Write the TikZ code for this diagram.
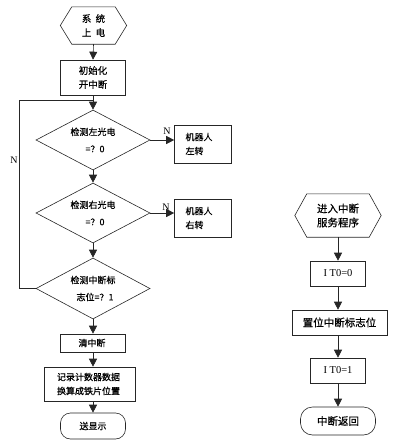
\documentclass[tikz,border=0pt]{standalone}
\usepackage{fontspec}
\setmainfont{Liberation Serif}
\newfontfamily\cjk[FakeBold=0.6]{Noto Sans CJK SC}
\usetikzlibrary{shapes.geometric,arrows.meta,calc}
\begin{document}
\begin{tikzpicture}[x=1pt,y=-1pt,
  line/.style={draw=black!85, line width=0.6pt},
  arr/.style={line, -{Triangle[width=8pt,length=8pt]}},
  txt/.style={inner sep=0pt, align=center, font=\cjk\fontsize{9}{14}\selectfont},
  bigtxt/.style={inner sep=0pt, align=center, font=\cjk\fontsize{10.5}{14}\selectfont},
  box/.style={line, rectangle, txt},
  dia/.style={line, diamond, aspect=1.9, inner sep=0pt, align=center,
    font=\cjk\fontsize{9}{17}\selectfont, minimum width=114pt, minimum height=60pt},
  term/.style={line, rectangle, rounded corners=10pt, txt},
  lbl/.style={inner sep=0pt, font=\fontsize{10}{10}\selectfont}]
\useasboundingbox (0,0) rectangle (414,447);
\newcommand\hexdraw[2]{\draw[line] (#1.north west) -- (#1.north east) -- ($(#1.east)+(#2,0)$) -- (#1.south east) -- (#1.south west) -- ($(#1.west)+(-#2,0)$) -- cycle;}

% left column
\node[txt, minimum width=43pt, minimum height=37pt, font=\cjk\fontsize{9.5}{14}\selectfont] (start) at (93.5,25.5) {系\ \ 统\\上\ \ 电};
\hexdraw{start}{11.5}
\node[box, minimum width=65pt, minimum height=35pt, font=\cjk\fontsize{9.5}{14}\selectfont] (init) at (93,77.5) {初始化\\开中断};
\node[dia] (d1) at (93,140) {检测左光电\\\ \ =？0};
\node[box, minimum width=57pt, minimum height=38pt, align=left, text width=35pt] (lt) at (203,144) {机器人\\左转};
\node[dia] (d2) at (93,213) {检测右光电\\\ \ =？0};
\node[box, minimum width=57pt, minimum height=38pt, align=left, text width=35pt] (rt) at (203,218) {机器人\\右转};
\node[dia, minimum height=61pt] (d3) at (93,288.5) {检测中断标\\\ \ 志位=？1};
\node[box, minimum width=65pt, minimum height=18pt] (clr) at (93,343) {清中断\ };
\node[box, minimum width=91pt, minimum height=34pt, align=left] (rec) at (89.5,384) {记录计数器数据\\换算成铁片位置\ \ };
\node[term, minimum width=65pt, minimum height=26pt] (disp) at (93,426) {送显示};

\coordinate (lp) at (19,100);
\coordinate (jn) at (93,100);

\draw[arr] (start.south) -- (init.north);
\draw[arr] (init.south) -- (d1.north);
\draw[arr] (d1.south) -- (d2.north);
\draw[arr] (d2.south) -- (d3.north);
\draw[arr] (d3.south) -- (clr.north);
\draw[arr] (clr.south) -- (clr.south |- rec.north);
\draw[arr] (rec.south -| disp.north) -- (disp.north);
\draw[arr] (d1.east) -- (d1.east -| lt.west);
\draw[arr] (d2.east) -- (d2.east -| rt.west);
\draw[line] (d3.west) -- (d3.west -| lp) -- (lp) -- (jn);

\node[lbl] (n1) at (167,131) {N};
\node[lbl] (n2) at (166,207) {N};
\node[lbl] (n3) at (14,160) {N};

% right column
\node[bigtxt, minimum width=62pt, minimum height=43pt] (ist) at (338,215.5) {进入中断\\服务程序};
\hexdraw{ist}{12}
\node[box, minimum width=55pt, minimum height=25pt, font=\fontsize{10.5}{12}\selectfont] (it0) at (338,273.5) {I T0=0};
\node[box, minimum width=95pt, minimum height=25pt, font=\cjk\fontsize{10.5}{12}\selectfont] (set) at (339.5,322.5) {置位中断标志位};
\node[box, minimum width=55pt, minimum height=25pt, font=\fontsize{10.5}{12}\selectfont] (it1) at (338,370.5) {I T0=1};
\node[term, minimum width=75pt, minimum height=28pt, rounded corners=12pt, font=\cjk\fontsize{10.5}{12}\selectfont] (ret) at (338,421) {中断返回};

\draw[arr] (ist.south) -- (it0.north);
\draw[arr] (it0.south) -- (it0.south |- set.north);
\draw[arr] (it0.south |- set.south) -- (it1.north);
\draw[arr] (it1.south) -- (ret.north);
\end{tikzpicture}
\end{document}
